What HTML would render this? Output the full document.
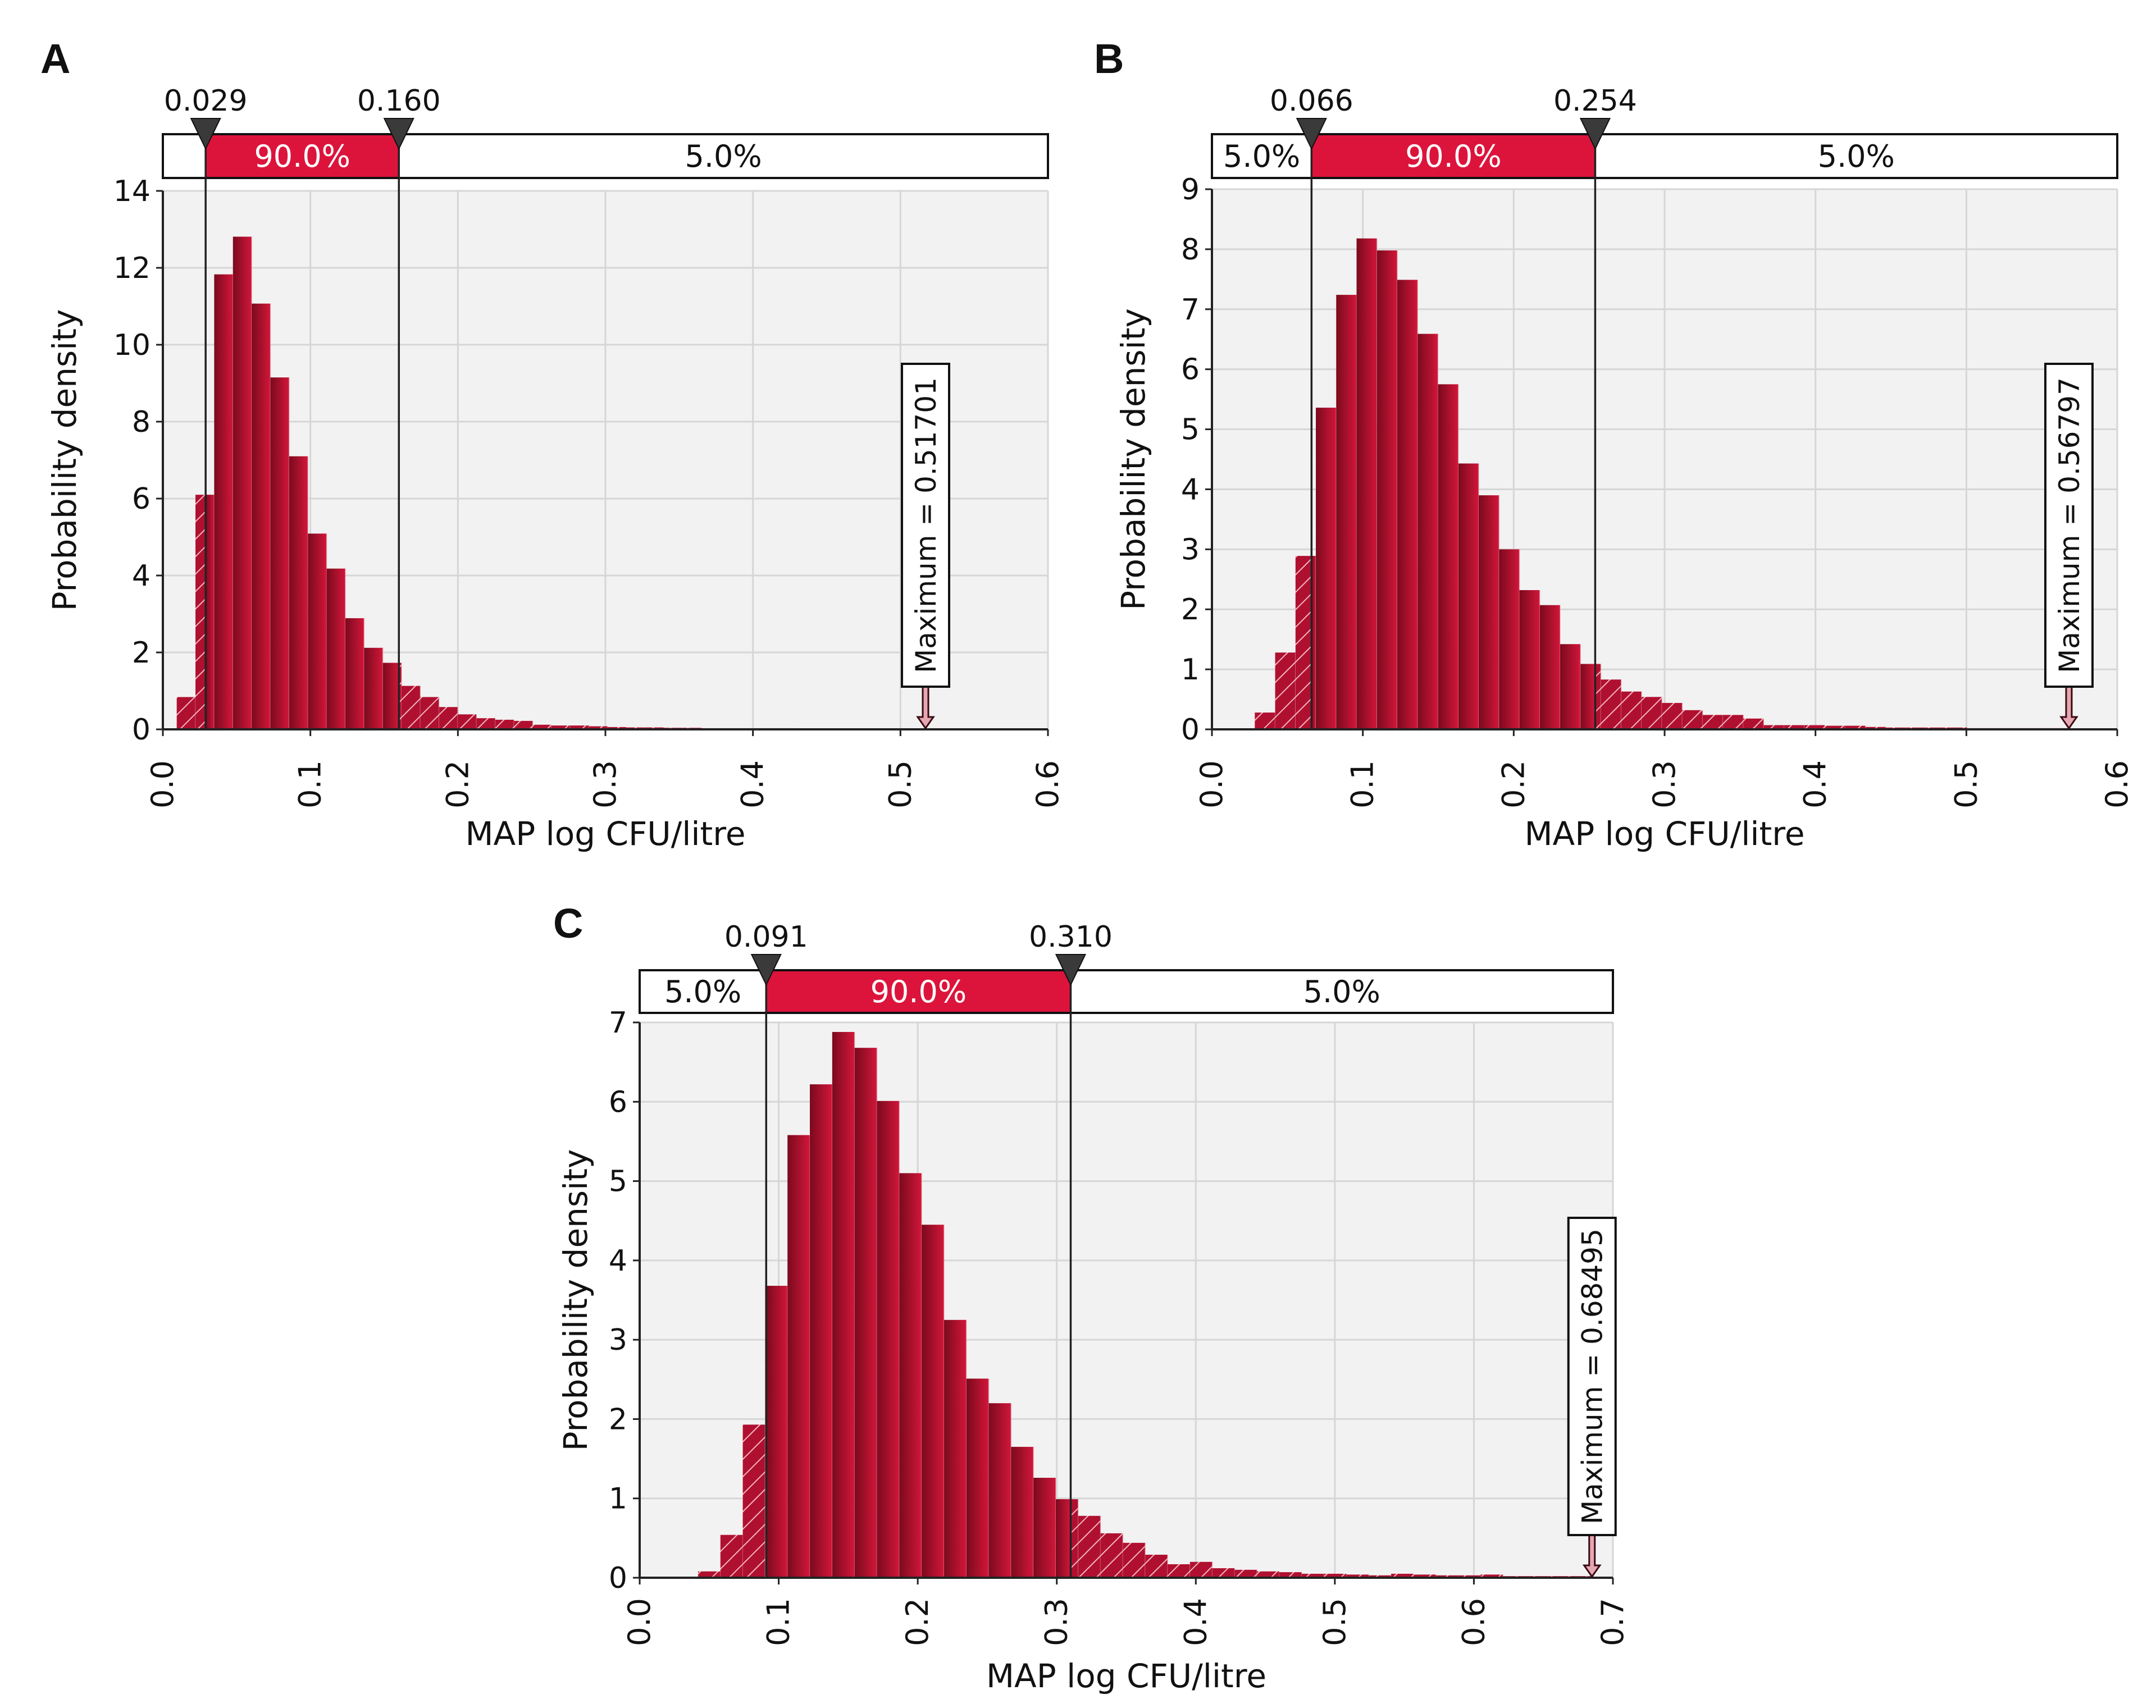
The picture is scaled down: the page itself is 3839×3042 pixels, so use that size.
<!DOCTYPE html>
<html><head><meta charset="utf-8"><title>MAP distributions</title>
<style>
html,body{margin:0;padding:0;background:#fff;}
svg{display:block;font-family:"DejaVu Sans","Liberation Sans",sans-serif;}
</style></head>
<body>
<svg id="fig" width="3839" height="3042" viewBox="0 0 3839 3042" xmlns="http://www.w3.org/2000/svg">
<defs>
<linearGradient id="barGrad" x1="0" y1="0" x2="1" y2="0">
<stop offset="0" stop-color="#7a0a1d"/><stop offset="1" stop-color="#d2163a"/>
</linearGradient>
<pattern id="hatch" patternUnits="userSpaceOnUse" width="22" height="22" patternTransform="rotate(45)">
<rect width="22" height="22" fill="#b01030"/>
<line x1="0" y1="0" x2="0" y2="22" stroke="#f3b5c0" stroke-width="4"/>
</pattern>
</defs>
</svg>
<script>
// ---- Panel A data ----
const aBinStart = 0.0094;
const aBinWidth = 0.0127;
const aValues = [0.84,6.1,11.83,12.81,11.07,9.15,7.1,5.09,4.18,2.89,2.12,1.73,1.13,0.84,0.58,0.39,0.29,0.25,0.22,0.12,0.1,0.1,0.08,0.06,0.05,0.05,0.04,0.04,0.03,0.03,0.03,0.03,0.03,0.02,0.02,0.02,0.02,0.02,0.02,0.02];
const aYTicks = [0,2,4,6,8,10,12,14];
const aXTicks = [0,0.1,0.2,0.3,0.4,0.5,0.6];
const aMarks = [0.029,0.160];
const aMarkLabels = ["0.029","0.160"];
const aBandLabels = ["", "90.0%", "5.0%"];
const aMax = 0.51701;
// ---- Panel B data ----
const bBinStart = 0.0284;
const bBinWidth = 0.01349;
const bValues = [0.28,1.28,2.89,5.36,7.24,8.18,7.98,7.49,6.59,5.75,4.43,3.9,3.0,2.32,2.07,1.42,1.09,0.83,0.63,0.54,0.44,0.32,0.24,0.24,0.18,0.07,0.07,0.07,0.06,0.06,0.04,0.03,0.03,0.03,0.03,0.02,0.02,0.02,0.02,0.02];
const bYTicks = [0,1,2,3,4,5,6,7,8,9];
const bXTicks = [0,0.1,0.2,0.3,0.4,0.5,0.6];
const bMarks = [0.066,0.254];
const bMarkLabels = ["0.066","0.254"];
const bBandLabels = ["5.0%", "90.0%", "5.0%"];
const bMax = 0.56797;
// ---- Panel C data ----
const cBinStart = 0.042;
const cBinWidth = 0.01608;
const cValues = [0.08,0.54,1.93,3.68,5.58,6.22,6.88,6.68,6.01,5.1,4.45,3.25,2.51,2.2,1.65,1.26,0.99,0.78,0.56,0.44,0.29,0.17,0.2,0.12,0.1,0.08,0.07,0.05,0.05,0.04,0.03,0.05,0.04,0.03,0.03,0.04,0.02,0.02,0.02,0.02];
const cYTicks = [0,1,2,3,4,5,6,7];
const cXTicks = [0,0.1,0.2,0.3,0.4,0.5,0.6,0.7];
const cMarks = [0.091,0.310];
const cMarkLabels = ["0.091","0.310"];
const cBandLabels = ["5.0%", "90.0%", "5.0%"];
const cMax = 0.68495;

const NS = "http://www.w3.org/2000/svg";
const svg = document.getElementById('fig');
function mk(tag, attrs, parent, txt){
  const e = document.createElementNS(NS, tag);
  for (const k in attrs) e.setAttribute(k, attrs[k]);
  if (txt !== undefined) e.textContent = txt;
  (parent || svg).appendChild(e);
  return e;
}

function panel(cfg){
  const g = mk('g', {});
  
  
  const L = cfg.left, R = cfg.right, T = cfg.top, B = cfg.bottom;
  const xs = v => L + (v - cfg.xMin) / (cfg.xMax - cfg.xMin) * (R - L);
  const ys = v => B - (v - cfg.yMin) / (cfg.yMax - cfg.yMin) * (B - T);

  const letter = mk('text', {x: cfg.letterX, y: cfg.letterY, 'font-size': 74, 'font-weight': 'bold', fill: '#111', 'font-family': '"Liberation Sans",sans-serif'}, g, cfg.letter);
  
  

  const bg = mk('rect', {x: L, y: T, width: R - L, height: B - T, fill: '#f2f2f2'}, g);
  
  

  cfg.yTicks.forEach(t => {
    const gl = mk('line', {x1: L, x2: R, y1: ys(t), y2: ys(t), stroke: '#d6d6d6', 'stroke-width': 3}, g);
    
    
    const tl = mk('text', {x: L - 22, y: ys(t) + 18, 'font-size': 52, 'text-anchor': 'end', fill: '#111'}, g, String(t));
    
    
    mk('line', {x1: L - 12, x2: L, y1: ys(t), y2: ys(t), stroke: '#222', 'stroke-width': 3}, g);
  });
  cfg.xTicks.forEach(t => {
    const gl = mk('line', {x1: xs(t), x2: xs(t), y1: T, y2: B, stroke: '#d6d6d6', 'stroke-width': 3}, g);
    
    
    const tx = xs(t) + 18, ty = B + cfg.tickOffset;
    const tl = mk('text', {x: tx, y: ty, 'font-size': 54, 'text-anchor': 'end', fill: '#111', transform: `rotate(-90 ${tx} ${ty})`}, g, t.toFixed(1));
    
    
    mk('line', {x1: xs(t), x2: xs(t), y1: B, y2: B + 12, stroke: '#222', 'stroke-width': 3}, g);
  });

  const lo = cfg.marks[0], hi = cfg.marks[1];
  cfg.values.forEach((v, i) => {
    const x0 = cfg.binStart + i * cfg.binWidth, x1 = x0 + cfg.binWidth;
    const segs = [];
    if (x0 < lo) segs.push([x0, Math.min(x1, lo), 'url(#hatch)']);
    if (x1 > lo && x0 < hi) segs.push([Math.max(x0, lo), Math.min(x1, hi), 'url(#barGrad)']);
    if (x1 > hi) segs.push([Math.max(x0, hi), x1, 'url(#hatch)']);
    segs.forEach(s => {
      const r = mk('rect', {x: xs(s[0]), y: ys(v), width: Math.max(0, xs(s[1]) - xs(s[0])), height: B - ys(v), fill: s[2]}, g);
      
      
    });
    mk('line', {x1: xs(x1), x2: xs(x1), y1: ys(v), y2: B, stroke: '#e8a0ad', 'stroke-width': 1.5, opacity: 0.6}, g);
  });

  mk('line', {x1: L, x2: L, y1: T, y2: B, stroke: '#222', 'stroke-width': 4}, g);
  const xa = mk('line', {x1: L, x2: R, y1: B, y2: B, stroke: '#222', 'stroke-width': 4}, g);
  
  

  const band = mk('rect', {x: L, y: cfg.bandTop, width: R - L, height: cfg.bandBottom - cfg.bandTop, fill: '#fff', stroke: '#111', 'stroke-width': 4}, g);
  
  
  const mid = mk('rect', {x: xs(lo), y: cfg.bandTop + 2, width: xs(hi) - xs(lo), height: cfg.bandBottom - cfg.bandTop - 4, fill: '#dc143c'}, g);
  
  
  const by = (cfg.bandTop + cfg.bandBottom) / 2 + 19;
  const centers = [(L + xs(lo)) / 2, (xs(lo) + xs(hi)) / 2, (xs(hi) + R) / 2];
  cfg.bandLabels.forEach((lab, i) => {
    if (!lab) return;
    const t = mk('text', {x: centers[i], y: by, 'font-size': 54, 'text-anchor': 'middle', fill: i === 1 ? '#fff' : '#111'}, g, lab);
    
    
  });

  cfg.marks.forEach((m, i) => {
    const x = xs(m);
    const vl = mk('line', {x1: x, x2: x, y1: cfg.bandTop, y2: B, stroke: '#222', 'stroke-width': 3.5}, g);
    
    
    const tri = mk('polygon', {points: `${x-26},${cfg.bandTop-28} ${x+26},${cfg.bandTop-28} ${x},${cfg.bandTop+26}`, fill: '#3a3a3a', stroke: '#111', 'stroke-width': 2}, g);
    
    
    const ml = mk('text', {x: x, y: cfg.bandTop - 42, 'font-size': 52, 'text-anchor': 'middle', fill: '#111'}, g, cfg.markLabels[i]);
    
    
  });

  const mx = xs(cfg.maxV);
  const boxB = B - 76, boxT = boxB - cfg.boxH;
  const arr = mk('path', {d: `M${mx-5},${boxB} L${mx-5},${B-22} L${mx-14},${B-22} L${mx},${B-2} L${mx+14},${B-22} L${mx+5},${B-22} L${mx+5},${boxB} Z`, fill: '#e6a6b2', stroke: '#3a0a12', 'stroke-width': 3}, g);
  
  
  const box = mk('rect', {x: mx - 42, y: boxT, width: 84, height: cfg.boxH, fill: '#fff', stroke: '#111', 'stroke-width': 4}, g);
  
  
  const cy = (boxT + boxB) / 2;
  const mt = mk('text', {x: mx + 18, y: cy, 'font-size': 50, 'text-anchor': 'middle', fill: '#111', transform: `rotate(-90 ${mx + 18} ${cy})`}, g, 'Maximum = ' + cfg.maxV.toFixed(5));
  
  

  const xt = mk('text', {x: (L + R) / 2, y: cfg.xTitleY, 'font-size': 58, 'text-anchor': 'middle', fill: '#111'}, g, 'MAP log CFU/litre');
  
  
  const ycy = (T + B) / 2;
  const yt = mk('text', {x: cfg.yTitleX, y: ycy, 'font-size': 58, 'text-anchor': 'middle', fill: '#111', transform: `rotate(-90 ${cfg.yTitleX} ${ycy})`}, g, 'Probability density');
  
  
}

panel({name: 'panel-a', letter: 'A', letterX: 72, letterY: 130, left: 290, right: 1866, top: 340, bottom: 1299,
  xMin: 0, xMax: 0.6, yMin: 0, yMax: 14, bandTop: 239, bandBottom: 317, tickOffset: 55,
  binStart: aBinStart, binWidth: aBinWidth, values: aValues, yTicks: aYTicks, xTicks: aXTicks,
  marks: aMarks, markLabels: aMarkLabels, bandLabels: aBandLabels, maxV: aMax, boxH: 575,
  xTitleY: 1505, yTitleX: 135});
panel({name: 'panel-b', letter: 'B', letterX: 1948, letterY: 130, left: 2158, right: 3770, top: 337, bottom: 1299,
  xMin: 0, xMax: 0.6, yMin: 0, yMax: 9, bandTop: 239, bandBottom: 317, tickOffset: 55,
  binStart: bBinStart, binWidth: bBinWidth, values: bValues, yTicks: bYTicks, xTicks: bXTicks,
  marks: bMarks, markLabels: bMarkLabels, bandLabels: bBandLabels, maxV: bMax, boxH: 575,
  xTitleY: 1505, yTitleX: 2038});
panel({name: 'panel-c', letter: 'C', letterX: 985, letterY: 1670, left: 1139, right: 2872, top: 1821, bottom: 2810,
  xMin: 0, xMax: 0.7, yMin: 0, yMax: 7, bandTop: 1728, bandBottom: 1804, tickOffset: 36,
  binStart: cBinStart, binWidth: cBinWidth, values: cValues, yTicks: cYTicks, xTicks: cXTicks,
  marks: cMarks, markLabels: cMarkLabels, bandLabels: cBandLabels, maxV: cMax, boxH: 565,
  xTitleY: 3005, yTitleX: 1045});
</script>
</body></html>
